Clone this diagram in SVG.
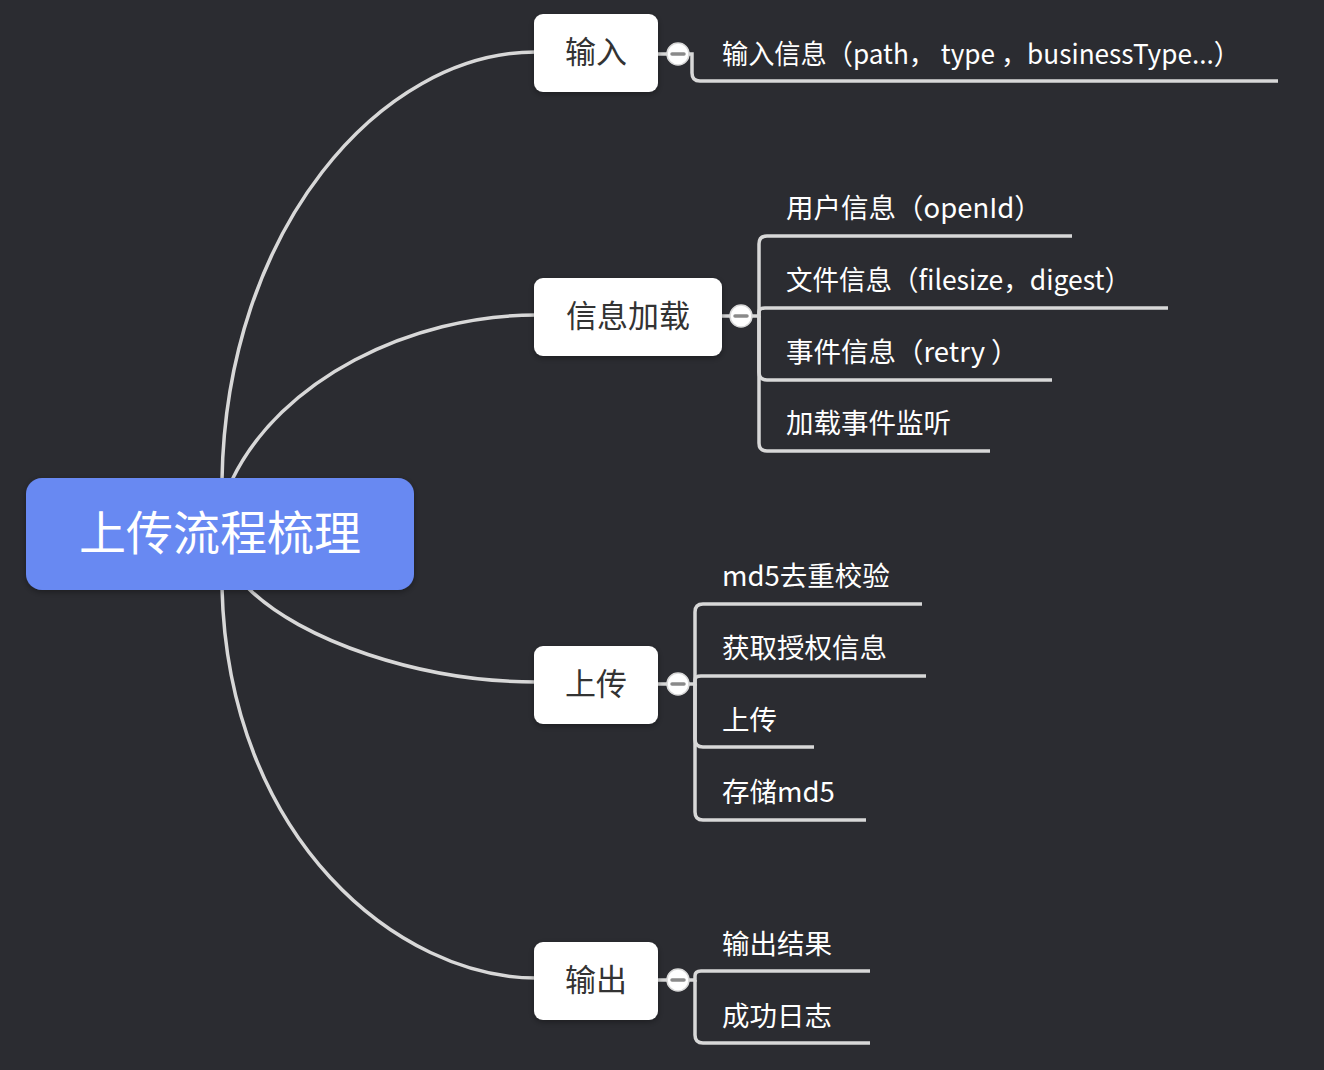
<svg xmlns="http://www.w3.org/2000/svg" width="1324" height="1070" viewBox="0 0 1324 1070">
<defs>
<filter id="sh" x="-10%" y="-10%" width="120%" height="130%">
<feDropShadow dx="0" dy="2" stdDeviation="3" flood-color="#000" flood-opacity="0.35"/>
</filter>
<style>
.bg{fill:#2b2c31}
.ln{fill:none;stroke:#d8d8d8;stroke-width:3.5;stroke-linecap:butt}
.node{fill:#ffffff}
.ntx{font-family:"Noto Sans CJK SC","Noto Sans",sans-serif;font-size:31px;fill:#333333;text-anchor:middle}
.ctx{font-family:"Noto Sans CJK SC","Noto Sans",sans-serif;font-size:27.5px;fill:#ffffff}
.btn{fill:#ffffff;stroke:#d8d8d8;stroke-width:1.5}
.minus{stroke:#8a8a8a;stroke-width:3.5;stroke-linecap:round}
</style>
</defs>
<rect class="bg" x="0" y="0" width="1324" height="1070"/>

<g id="connectors">
<path class="ln" d="M222,480 C226,230 380,52 536,52"/>
<path class="ln" d="M232,480 C280,380 410,315 536,315"/>
<path class="ln" d="M248,588 C300,640 420,682 536,682"/>
<path class="ln" d="M222,588 C228,840 400,978 536,978"/>

<path class="ln" d="M658,54 H692 V73 Q692,81 700,81 H1278"/>

<path class="ln" d="M722,316 H759 V244 Q759,236 767,236 H1072"/>
<path class="ln" d="M759,316 V312 Q759,308 765,308 H1168"/>
<path class="ln" d="M759,316 V372 Q759,380 767,380 H1052"/>
<path class="ln" d="M759,316 V443 Q759,451 767,451 H990"/>

<path class="ln" d="M658,684 H695 V612 Q695,604 703,604 H922"/>
<path class="ln" d="M695,684 V680 Q695,676 701,676 H926"/>
<path class="ln" d="M695,684 V739 Q695,747 703,747 H814"/>
<path class="ln" d="M695,684 V812 Q695,820 703,820 H866"/>

<path class="ln" d="M658,980 H695 V976 Q695,971 701,971 H870"/>
<path class="ln" d="M695,980 V1035 Q695,1043 703,1043 H870"/>
</g>

<g id="root">
<rect x="26" y="478" width="388" height="112" rx="16" fill="#6889f2" filter="url(#sh)"/>
<text x="220" y="550" font-family="'Noto Sans CJK SC','Noto Sans',sans-serif" font-size="47" fill="#ffffff" text-anchor="middle">上传流程梳理</text>
</g>

<g id="n-input">
<rect class="node" x="534" y="14" width="124" height="78" rx="9" filter="url(#sh)"/>
<text class="ntx" x="596" y="63">输入</text>
<circle class="btn" cx="678" cy="54" r="11"/>
<line class="minus" x1="672" y1="54" x2="684" y2="54"/>
</g>
<g id="c-input"><text class="ctx" x="722" y="64" textLength="518" lengthAdjust="spacingAndGlyphs">输入信息（path， type ，businessType...）</text></g>

<g id="n-load">
<rect class="node" x="534" y="278" width="188" height="78" rx="9" filter="url(#sh)"/>
<text class="ntx" x="628" y="327">信息加载</text>
<circle class="btn" cx="741" cy="316" r="11"/>
<line class="minus" x1="735" y1="316" x2="747" y2="316"/>
</g>
<g id="c-load1"><text class="ctx" x="786" y="218">用户信息（openId）</text></g>
<g id="c-load2"><text class="ctx" x="786" y="290" textLength="345" lengthAdjust="spacingAndGlyphs">文件信息（filesize，digest）</text></g>
<g id="c-load3"><text class="ctx" x="786" y="362">事件信息（retry ）</text></g>
<g id="c-load4"><text class="ctx" x="786" y="433">加载事件监听</text></g>

<g id="n-upload">
<rect class="node" x="534" y="646" width="124" height="78" rx="9" filter="url(#sh)"/>
<text class="ntx" x="596" y="695">上传</text>
<circle class="btn" cx="678" cy="684" r="11"/>
<line class="minus" x1="672" y1="684" x2="684" y2="684"/>
</g>
<g id="c-up1"><text class="ctx" x="722" y="586">md5去重校验</text></g>
<g id="c-up2"><text class="ctx" x="722" y="658">获取授权信息</text></g>
<g id="c-up3"><text class="ctx" x="722" y="730">上传</text></g>
<g id="c-up4"><text class="ctx" x="722" y="802">存储md5</text></g>

<g id="n-output">
<rect class="node" x="534" y="942" width="124" height="78" rx="9" filter="url(#sh)"/>
<text class="ntx" x="596" y="991">输出</text>
<circle class="btn" cx="678" cy="980" r="11"/>
<line class="minus" x1="672" y1="980" x2="684" y2="980"/>
</g>
<g id="c-out1"><text class="ctx" x="722" y="954">输出结果</text></g>
<g id="c-out2"><text class="ctx" x="722" y="1026">成功日志</text></g>
</svg>
